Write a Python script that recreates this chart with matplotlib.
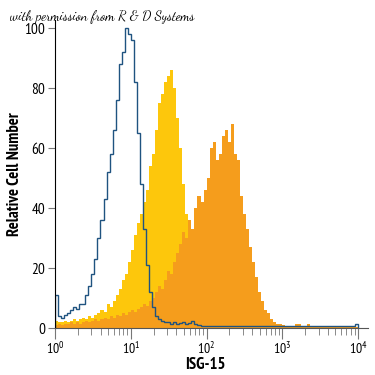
import numpy as np
import matplotlib
matplotlib.use("Agg")
import matplotlib.pyplot as plt

plt.rcParams['font.family'] = ['PT Sans Narrow', 'DejaVu Sans']
plt.rcParams['mathtext.fontset'] = 'custom'
plt.rcParams['mathtext.rm'] = 'PT Sans Narrow'

# ---------------------------------------------------------------------------
# Data: relative cell number per log-channel (100 bins over 10^0 .. 10^4)
# ---------------------------------------------------------------------------
n_bins = 100

isotype = [11, 4, 3.5, 4.5, 5, 6, 7, 6.5, 8, 8,
           11, 14, 18, 23, 30, 36, 43, 52, 58, 66,
           76, 88, 92, 100, 98, 96, 82, 65, 48, 33,
           21, 12, 7, 4, 3, 2.5, 2, 2, 1.5, 2,
           1.5, 1.8, 2, 1.5, 1.8, 2.5, 1.5, 1, 0.8, 0.6] + [0.6] * 49 + [1.5]

treated_low = [2.5, 2, 2, 2.5, 2, 2.5, 3, 2.5, 3, 3.5,
               3, 4, 3.5, 4.5, 5, 6, 5.5, 8, 7, 9,
               11, 13, 16, 18, 22, 26, 31, 35, 38, 42,
               46, 54, 58, 66, 75, 78, 82, 84, 86, 80,
               70, 60, 48, 38, 28, 18, 10, 6, 4, 3,
               2, 1.5, 1, 1, 1, 1, 1, 1, 1, 1] + [0.5] * 40

isg15 = [1, 1.5, 1, 1.5, 1.2, 2, 1.5, 2, 1.5, 2,
         2.5, 2, 2.5, 3, 2.5, 3, 3.5, 3, 4, 3.5,
         4.5, 4, 5, 4.5, 5.5, 6, 5.5, 6.5, 7, 8,
         7.5, 9, 10, 12, 14, 13, 16, 19, 18, 22,
         25, 28, 32, 30, 36, 33, 40, 44, 42, 46,
         50, 60, 62, 56, 58, 64, 66, 62, 68, 58,
         56, 44, 38, 33, 27, 22, 17, 12, 9, 6,
         5, 3, 2, 1.5, 1.2, 1, 0.8, 0.6, 0.7, 1.2,
         1.5, 0.6, 0.8, 1.5, 0.6, 0.5] + [0.4] * 14

edges = 10 ** np.linspace(0, 4, n_bins + 1)

fig = plt.figure(figsize=(3.75, 3.75), dpi=100)
ax = fig.add_axes([0.1467, 0.1253, 0.8347, 0.8213])

ax.stairs(treated_low, edges, fill=True, color="#FDC70C", linewidth=0)
ax.stairs(isg15, edges, fill=True, color="#F59D1C", linewidth=0)
ax.stairs(isotype, edges, color="#1F5380", linewidth=1.0)

ax.set_xscale("log")
ax.set_xlim(1, 10 ** 4.13)
ax.set_ylim(0, 102.7)
ax.set_xticks([1, 10, 100, 1000, 10000])
ax.set_xticklabels([r"$10^{0}$", r"$10^{1}$", r"$10^{2}$", r"$10^{3}$", r"$10^{4}$"])
ax.set_yticks([0, 20, 40, 60, 80, 100])

for side in ("top", "right"):
    ax.spines[side].set_visible(False)
ax.spines["left"].set_color("black")
ax.spines["bottom"].set_color("#555555")
ax.tick_params(axis="y", length=5, color="#777777", labelsize=11, pad=2)
ax.tick_params(axis="x", which="major", length=8, color="#777777", labelsize=10, pad=1)
ax.tick_params(axis="x", which="minor", length=5, color="#777777")

ax.set_xlabel("ISG-15", fontsize=12, fontweight="bold", va="center")
ax.xaxis.set_label_coords(0.48, -0.12)
ax.set_ylabel("Relative Cell Number", fontsize=12, fontweight="bold", va="center")
ax.yaxis.set_label_coords(-0.128, 0.5)

fig.text(0.027, 0.955, "with permission from R & D Systems", fontsize=10,
         family="Dancing Script", ha="left", va="center")

plt.savefig("out.png", dpi=100)
